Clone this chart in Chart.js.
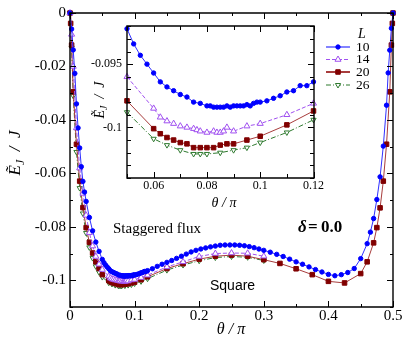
<!DOCTYPE html>
<html lang="en">
<head>
<meta charset="UTF-8">
<title>E_J vs theta</title>
<script src="https://cdn.jsdelivr.net/npm/chart.js"></script>
<style>
  body { margin: 0; background: #fff; }
  #wrap { position: relative; width: 409px; height: 350px; }
  #main { position: absolute; left: 0; top: 0; }
  #inset { position: absolute; left: 75px; top: 14px; }
</style>
</head>
<body>
<div id="wrap">
  <canvas id="main" width="409" height="350"></canvas>
  <canvas id="inset" width="250" height="210"></canvas>
</div>
<script>
// L = 10
const theta10 = [0, 0.0025, 0.005, 0.0075, 0.01, 0.0125, 0.015, 0.0175, 0.02, 0.0225, 0.025, 0.03, 0.035, 0.04, 0.045,
  0.05, 0.0525, 0.055, 0.0575, 0.06, 0.0625, 0.065, 0.0675, 0.07, 0.0725, 0.075, 0.0775, 0.08,
  0.08125, 0.0825, 0.08375, 0.085, 0.08625, 0.0875, 0.08875, 0.09, 0.09125, 0.0925, 0.09375, 0.095, 0.09625, 0.0975, 0.09875, 0.1,
  0.1025, 0.105, 0.1075, 0.11, 0.1125, 0.115, 0.1175, 0.12,
  0.1275, 0.135, 0.1425, 0.15, 0.1575, 0.165, 0.1725, 0.18, 0.1875, 0.195, 0.2025, 0.21, 0.2175, 0.225, 0.2325, 0.24, 0.2475, 0.255, 0.2625, 0.27, 0.2775, 0.285, 0.2925,
  0.3, 0.31, 0.32, 0.33, 0.34, 0.35, 0.36, 0.37, 0.38, 0.39, 0.4, 0.41, 0.42, 0.43, 0.44, 0.45, 0.46,
  0.465, 0.47, 0.475, 0.48, 0.485, 0.49, 0.4925, 0.495, 0.4975, 0.5];
const e10 = [0, -0.006, -0.0138, -0.0226, -0.034, -0.043, -0.0505, -0.0575, -0.063, -0.067, -0.0705, -0.0765, -0.0815, -0.0857, -0.0892,
  -0.0922, -0.0934, -0.0943, -0.0950, -0.0957, -0.0964, -0.0968, -0.0971, -0.0974, -0.0976, -0.0980, -0.0981, -0.0983,
  -0.0983, -0.0984, -0.0984, -0.0984, -0.0984, -0.0983, -0.0984, -0.0983, -0.0983, -0.0983, -0.0983, -0.0982, -0.0983, -0.0981, -0.0980, -0.0980,
  -0.0979, -0.0977, -0.0975, -0.0972, -0.0971, -0.0967, -0.0967, -0.0964,
  -0.0957, -0.0948, -0.0940, -0.0933, -0.0926, -0.0918, -0.0910, -0.0902, -0.0894, -0.0888, -0.0883, -0.0879, -0.0875, -0.0872, -0.0869, -0.0868, -0.0868, -0.0868, -0.0869, -0.0871, -0.0874, -0.0878, -0.0883,
  -0.0888, -0.0895, -0.0903, -0.0911, -0.0921, -0.0931, -0.0940, -0.0950, -0.0960, -0.0969, -0.0978, -0.0983, -0.0979, -0.0971, -0.0956, -0.0919, -0.0863,
  -0.0820, -0.0769, -0.0698, -0.0613, -0.0498, -0.0345, -0.0224, -0.0139, -0.0057, 0];

// L = 14
const theta14 = [0, 0.0025, 0.005, 0.01, 0.015, 0.02, 0.025, 0.03, 0.035, 0.04, 0.045, 0.05,
  0.06, 0.0625, 0.065, 0.0675, 0.07, 0.0725, 0.075, 0.07625, 0.0775, 0.08, 0.0825, 0.08375, 0.085, 0.08625, 0.0875,
  0.09, 0.095, 0.1, 0.11, 0.12, 0.15, 0.175, 0.2, 0.225, 0.25, 0.275, 0.3];
const e14 = [0, -0.008, -0.02, -0.043, -0.058, -0.0675, -0.0757, -0.0822, -0.0872, -0.0911, -0.0940, -0.0960,
  -0.0985, -0.0992, -0.0995, -0.0997, -0.0999, -0.1000, -0.1001, -0.1002, -0.1003, -0.1004, -0.1003, -0.1004, -0.1004, -0.1003, -0.1000,
  -0.1003, -0.0999, -0.0997, -0.0990, -0.0981, -0.0950, -0.0931, -0.0911, -0.0900, -0.0898, -0.0899, -0.0910];

// L = 20
const theta20 = [0, 0.001, 0.0025, 0.005, 0.01, 0.015, 0.02, 0.025, 0.03, 0.035, 0.04, 0.045, 0.05,
  0.06, 0.0625, 0.065, 0.0675, 0.07, 0.0725, 0.075, 0.0775, 0.08, 0.0825, 0.085, 0.0875, 0.09,
  0.095, 0.1, 0.11, 0.12, 0.15, 0.175, 0.2, 0.225, 0.25, 0.275, 0.3, 0.325, 0.35, 0.375, 0.4, 0.425, 0.45,
  0.46, 0.47, 0.475, 0.48, 0.485, 0.49, 0.495, 0.4975, 0.499, 0.5];
const e20 = [0, -0.0039, -0.012, -0.0295, -0.0491, -0.0629, -0.0728, -0.0803, -0.0858, -0.0898, -0.0931, -0.0956, -0.0979,
  -0.1001, -0.1005, -0.1008, -0.1010, -0.1012, -0.1013, -0.1016, -0.1016, -0.1016, -0.1016, -0.1014, -0.1013, -0.1013,
  -0.1010, -0.1007, -0.0998, -0.0987, -0.0956, -0.0938, -0.0921, -0.0910, -0.0906, -0.0910, -0.0923, -0.0937, -0.0957, -0.0979, -0.1004, -0.1010, -0.0975,
  -0.0931, -0.0860, -0.0803, -0.0729, -0.0629, -0.0491, -0.0295, -0.012, -0.0039, 0];

// L = 26
const theta26 = [0, 0.0025, 0.005, 0.01, 0.015, 0.02, 0.025, 0.03, 0.035, 0.04, 0.045, 0.05,
  0.06, 0.065, 0.07, 0.075, 0.0775, 0.08, 0.085, 0.09, 0.095, 0.1, 0.11, 0.12,
  0.15, 0.175, 0.2, 0.225, 0.25, 0.275, 0.3];
const e26 = [0, -0.013, -0.031, -0.052, -0.0655, -0.075, -0.0823, -0.0877, -0.0917, -0.0948, -0.0970, -0.0988,
  -0.1009, -0.1014, -0.1018, -0.1021, -0.1021, -0.1021, -0.1020, -0.1018, -0.1016, -0.1012, -0.1004, -0.0994,
  -0.0962, -0.0943, -0.0927, -0.0915, -0.0911, -0.0914, -0.0926];

const sizes = ['10', '14', '20', '26'];

// tick positions
const mainXTicks = [0, 0.1, 0.2, 0.3, 0.4, 0.5];
const mainXMinor = [0.05, 0.15, 0.25, 0.35, 0.45];
const mainYTicks = [0, -0.02, -0.04, -0.06, -0.08, -0.1];
const mainYMinor = [-0.01, -0.03, -0.05, -0.07, -0.09, -0.11];
const insetXTicks = [0.06, 0.08, 0.1, 0.12];
const insetXMinor = [0.05, 0.07, 0.09, 0.11];
const insetYTicks = [-0.095, -0.1];
const insetYMinor = [-0.092, -0.093, -0.094, -0.096, -0.097, -0.098, -0.099, -0.101, -0.102, -0.103, -0.104];

const looks = [
  { color: '#0000ff', line: '#3030ff', fill: '#0000ff', style: 'circle', rot: 0, r: 2.2, dash: [] },
  { color: '#a050f0', line: '#a050f0', fill: '#ffffff', style: 'triangle', rot: 0, r: 3.5, dash: [4, 2] },
  { color: '#800000', line: '#a83c3c', fill: '#800000', style: 'rect', rot: 0, r: 3.2, dash: [] },
  { color: '#2f7a2f', line: '#2f7a2f', fill: '#ffffff', style: 'triangle', rot: 180, r: 3, dash: [5, 2, 1, 2] }
];
const xs = [theta10, theta14, theta20, theta26];
const ys = [e10, e14, e20, e26];

Chart.defaults.font.family = '"Liberation Serif", "Times New Roman", serif';
Chart.defaults.color = '#000';

function makeSets(lo, hi) {
  return sizes.map((lab, k) => {
    const s = looks[k];
    const pts = xs[k].map((t, i) => ({ x: t, y: ys[k][i] }))
      .filter(p => p.x >= lo - 1e-9 && p.x <= hi + 1e-9);
    return {
      label: lab, data: pts, showLine: true,
      borderColor: s.line, borderWidth: 1, borderDash: s.dash,
      pointStyle: s.style, pointRotation: s.rot, pointRadius: s.r, pointHoverRadius: s.r,
      pointBackgroundColor: s.fill, pointBorderColor: s.color, pointBorderWidth: 1,
      clip: false
    };
  });
}

function fmt(v) { return String(+(+v).toFixed(4)); }

function marker(ctx, s, x, y) {
  const r = s.r;
  ctx.beginPath();
  if (s.style === 'circle') {
    ctx.arc(x, y, r, 0, 2 * Math.PI);
  } else if (s.style === 'rect') {
    const h = Math.SQRT1_2 * r;
    ctx.rect(x - h, y - h, 2 * h, 2 * h);
  } else {
    let a = s.rot * Math.PI / 180;
    ctx.moveTo(x + Math.sin(a) * r, y - Math.cos(a) * r);
    a += 2 * Math.PI / 3;
    ctx.lineTo(x + Math.sin(a) * r, y - Math.cos(a) * r);
    a += 2 * Math.PI / 3;
    ctx.lineTo(x + Math.sin(a) * r, y - Math.cos(a) * r);
    ctx.closePath();
  }
  ctx.fillStyle = s.fill; ctx.fill();
  ctx.strokeStyle = s.color; ctx.lineWidth = 1; ctx.stroke();
}

// E~_J / J, rotated
function drawEj(ctx, cx, cy, size) {
  ctx.save();
  ctx.translate(cx, cy);
  ctx.rotate(-Math.PI / 2);
  const big = 'italic ' + size + 'px "Liberation Serif"';
  const small = 'italic ' + Math.round(size * 0.7) + 'px "Liberation Serif"';
  const parts = [['Ẽ', big, 0], ['J', small, size * 0.3], ['  /  J', big, 0]];
  let total = 0;
  parts.forEach(p => { ctx.font = p[1]; total += ctx.measureText(p[0]).width; });
  let x = -total / 2;
  ctx.textBaseline = 'middle'; ctx.textAlign = 'left'; ctx.fillStyle = '#000';
  parts.forEach(p => { ctx.font = p[1]; ctx.fillText(p[0], x, p[2]); x += ctx.measureText(p[0]).width; });
  ctx.restore();
}

// box with inward ticks on all four sides
const framePlugin = {
  id: 'frame',
  beforeDatasetsDraw(chart) {
    const a = chart.chartArea, ctx = chart.ctx;
    ctx.save();
    ctx.fillStyle = '#fff';
    ctx.fillRect(a.left, a.top, a.right - a.left, a.bottom - a.top);
    ctx.restore();
  },
  afterDatasetsDraw(chart, args, o) {
    const { ctx, chartArea: a, scales } = chart;
    const L = Math.round(a.left), R = Math.round(a.right);
    const T = Math.round(a.top), B = Math.round(a.bottom);
    ctx.save();
    ctx.strokeStyle = '#000'; ctx.lineWidth = 1.4;
    ctx.beginPath();
    ctx.rect(L, T, R - L, B - T);
    ctx.stroke();
    ctx.lineWidth = 1;
    ctx.beginPath();
    const xt = (vals, len) => vals.forEach(v => {
      const p = Math.round(scales.x.getPixelForValue(v)) + 0.5;
      ctx.moveTo(p, B); ctx.lineTo(p, B - len); ctx.moveTo(p, T); ctx.lineTo(p, T + len);
    });
    const yt = (vals, len) => vals.forEach(v => {
      const p = Math.round(scales.y.getPixelForValue(v)) + 0.5;
      ctx.moveTo(L, p); ctx.lineTo(L + len, p); ctx.moveTo(R, p); ctx.lineTo(R - len, p);
    });
    xt(o.xMajor, o.major); xt(o.xMinor, o.minor);
    yt(o.yMajor, o.major); yt(o.yMinor, o.minor);
    ctx.stroke();
    ctx.restore();
  }
};

const mainText = {
  id: 'mainText',
  afterDraw(chart) {
    const ctx = chart.ctx;
    ctx.save();
    ctx.fillStyle = '#000'; ctx.textBaseline = 'middle'; ctx.textAlign = 'left';
    ctx.font = '15px "Liberation Serif"';
    ctx.fillText('Staggered flux', 113, 229);
    ctx.font = '14px "Liberation Sans"';
    ctx.fillText('Square', 210, 286);
    ctx.font = 'italic bold 17px "Liberation Serif"';
    ctx.fillText('δ', 298, 228);
    ctx.font = 'bold 17px "Liberation Serif"';
    ctx.fillText('=', 308, 228);
    ctx.fillText('0.0', 321, 228);
    // x title
    ctx.textAlign = 'center';
    ctx.font = 'italic 16px "Liberation Serif"';
    ctx.fillText('θ / π', 231, 330);
    // legend
    ctx.textAlign = 'left';
    ctx.font = 'italic 14px "Liberation Serif"';
    ctx.fillText('L', 358, 34);
    const rows = [47, 59.5, 72, 85];
    sizes.forEach((lab, k) => {
      const s = looks[k], y = rows[k];
      ctx.strokeStyle = s.line; ctx.lineWidth = k === 2 ? 2 : 1.2;
      ctx.setLineDash(s.dash);
      ctx.beginPath(); ctx.moveTo(326, y); ctx.lineTo(350, y); ctx.stroke();
      ctx.setLineDash([]);
      marker(ctx, s, 338, y);
      ctx.fillStyle = '#000'; ctx.font = '13.5px "Liberation Serif"';
      ctx.fillText(lab, 356, y);
    });
    ctx.restore();
    drawEj(ctx, 16, 153, 17);
  }
};

const insetText = {
  id: 'insetText',
  afterDraw(chart) {
    const ctx = chart.ctx;
    ctx.save();
    ctx.fillStyle = '#000'; ctx.textBaseline = 'middle'; ctx.textAlign = 'center';
    ctx.font = 'italic 14px "Liberation Serif"';
    ctx.fillText('θ / π', 149, 189);
    ctx.restore();
    drawEj(ctx, 25, 86, 14);
  }
};

new Chart(document.getElementById('main'), {
  type: 'scatter',
  data: { datasets: makeSets(0, 0.5) },
  options: {
    responsive: false, animation: false, devicePixelRatio: 1,
    layout: { padding: { left: 0, top: 13, right: 16, bottom: 0 } },
    plugins: {
      legend: { display: false }, tooltip: { enabled: false },
      frame: { xMajor: mainXTicks, xMinor: mainXMinor, yMajor: mainYTicks, yMinor: mainYMinor, major: 6, minor: 3 }
    },
    scales: {
      x: {
        type: 'linear', min: 0, max: 0.5,
        grid: { display: false, drawTicks: false }, border: { display: false },
        afterBuildTicks: s => { s.ticks = mainXTicks.map(v => ({ value: v })); },
        afterFit: s => { s.height = 43; },
        ticks: { font: { size: 15 }, padding: 0, maxRotation: 0, autoSkip: false, callback: fmt }
      },
      y: {
        type: 'linear', min: -0.11, max: 0,
        grid: { display: false, drawTicks: false }, border: { display: false },
        afterBuildTicks: s => { s.ticks = mainYTicks.map(v => ({ value: v })); },
        afterFit: s => { s.width = 70; },
        ticks: { font: { size: 15 }, padding: 4, autoSkip: false, callback: fmt }
      }
    }
  },
  plugins: [framePlugin, mainText]
});

new Chart(document.getElementById('inset'), {
  type: 'scatter',
  data: { datasets: makeSets(0.05, 0.12) },
  options: {
    responsive: false, animation: false, devicePixelRatio: 1,
    layout: { padding: { left: 0, top: 10, right: 11, bottom: 0 } },
    plugins: {
      legend: { display: false }, tooltip: { enabled: false },
      frame: { xMajor: insetXTicks, xMinor: insetXMinor, yMajor: insetYTicks, yMinor: insetYMinor, major: 6, minor: 4 }
    },
    scales: {
      x: {
        type: 'linear', min: 0.05, max: 0.12,
        grid: { display: false, drawTicks: false }, border: { display: false },
        afterBuildTicks: s => { s.ticks = insetXTicks.map(v => ({ value: v })); },
        afterFit: s => { s.height = 46; },
        ticks: { font: { size: 12 }, padding: 1, maxRotation: 0, autoSkip: false, callback: fmt }
      },
      y: {
        type: 'linear', min: -0.104, max: -0.092,
        grid: { display: false, drawTicks: false }, border: { display: false },
        afterBuildTicks: s => { s.ticks = insetYTicks.map(v => ({ value: v })); },
        afterFit: s => { s.width = 52; },
        ticks: { font: { size: 12 }, padding: 5, autoSkip: false, callback: fmt }
      }
    }
  },
  plugins: [framePlugin, insetText]
});
</script>
</body>
</html>
